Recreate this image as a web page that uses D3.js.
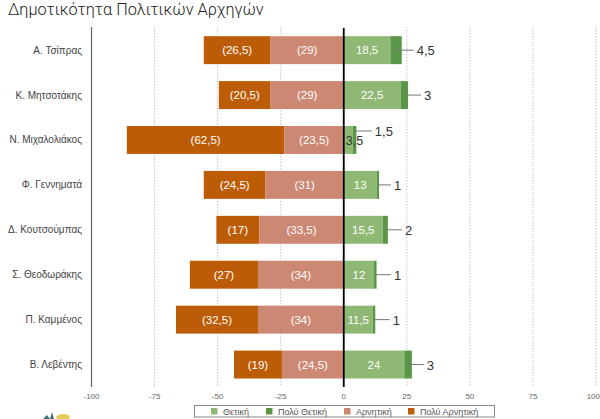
<!DOCTYPE html>
<html lang="el">
<head>
  <meta charset="UTF-8" />
  <title>Δημοτικότητα Πολιτικών Αρχηγών</title>
  <script src="https://d3js.org/d3.v7.min.js"></script>
  <style>
    body, html { margin: 0; padding: 0; background: #fff; }
    svg { display: block; font-family: "Liberation Sans", sans-serif; }
  </style>
</head>
<body>
  <svg id="chart" width="600" height="419"></svg>

  <script>
    // Values
    const leaders = ["Α. Τσίπρας", "Κ. Μητσοτάκης", "Ν. Μιχαλολιάκος", "Φ. Γεννηματά",
      "Δ. Κουτσούμπας", "Σ. Θεοδωράκης", "Π. Καμμένος", "Β. Λεβέντης"];
    const positive = [18.5, 22.5, 3.5, 13, 15.5, 12, 11.5, 24];
    const veryPositive = [4.5, 3, 1.5, 1, 2, 1, 1, 3];
    const negative = [29, 29, 23.5, 31, 33.5, 34, 34, 24.5];
    const veryNegative = [26.5, 20.5, 62.5, 24.5, 17, 27, 32.5, 19];
    const xTicks = [-100, -75, -50, -25, 0, 25, 50, 75, 100];
    const legendLabels = ["Θετική", "Πολύ Θετική", "Αρνητική", "Πολύ Αρνητική"];
    const legendColors = ["#8eb873", "#5a9645", "#cd8873", "#bd5c07"];

    const svg = d3.select("#chart");
    const fmt = v => String(v).replace(".", ",");

    const x = d3.scaleLinear().domain([-100, 100]).range([91.5, 596]);
    const y = d3.scaleBand().domain(leaders).range([27.7, 387]).paddingInner(0.378).paddingOuter(0.189);

    // Dotted vertical grid
    svg.append("g").selectAll("line").data(xTicks.filter(d => d !== 0 && d !== -100)).join("line")
      .attr("x1", d => x(d)).attr("x2", d => x(d))
      .attr("y1", 27).attr("y2", 387)
      .attr("stroke", "#c4c4c4").attr("stroke-width", 1).attr("stroke-dasharray", "1.5 1.5");

    // Bars: negatives stack leftwards from zero, positives rightwards
    const rows = leaders.map((name, i) => ({ name, i }));
    function barRow(color, from, to) {
      svg.append("g").selectAll("rect").data(rows).join("rect")
        .attr("x", d => x(Math.min(from(d.i), to(d.i))))
        .attr("width", d => Math.abs(x(to(d.i)) - x(from(d.i))))
        .attr("y", d => y(d.name)).attr("height", y.bandwidth())
        .attr("fill", color);
    }
    barRow(legendColors[3], i => -negative[i], i => -negative[i] - veryNegative[i]);
    barRow(legendColors[2], i => 0, i => -negative[i]);
    barRow(legendColors[0], i => 0, i => positive[i]);
    barRow(legendColors[1], i => positive[i], i => positive[i] + veryPositive[i]);

    // Axis lines
    svg.append("line").attr("x1", x(-100)).attr("x2", x(-100)).attr("y1", 27).attr("y2", 387)
      .attr("stroke", "#666").attr("stroke-width", 1.2);
    svg.append("line").attr("x1", x(0)).attr("x2", x(0)).attr("y1", 28).attr("y2", 387)
      .attr("stroke", "#000").attr("stroke-width", 1.8);

    // Inner labels
    function innerLabels(values, pos, text) {
      svg.append("g").selectAll("text").data(rows.filter(d => values[d.i] >= 5)).join("text")
        .attr("x", d => x(pos(d.i)))
        .attr("y", d => y(d.name) + y.bandwidth() / 2 + 4)
        .attr("text-anchor", "middle").attr("font-size", 11.5)
        .attr("fill", "#fff")
        .text(d => text(values[d.i]));
    }
    innerLabels(veryNegative, i => -negative[i] - veryNegative[i] / 2, v => `(${fmt(v)})`);
    innerLabels(negative, i => -negative[i] / 2, v => `(${fmt(v)})`);
    innerLabels(positive, i => positive[i] / 2, fmt);

    // The one positive value too small for its bar overflows it in dark text
    svg.append("g").selectAll("text").data(rows.filter(d => positive[d.i] < 5)).join("text")
      .attr("x", x(0) + 2).attr("y", d => y(d.name) + y.bandwidth() / 2 + 5)
      .attr("font-size", 12.5).attr("fill", "#2f3a34")
      .text(d => fmt(positive[d.i]));

    // Leader lines with the "very positive" values, gap from bar end to label set by hand
    const leaderGap = [15, 16, 18.5, 15, 17, 17.5, 17.5, 15];
    const labelGroup = svg.append("g");
    rows.forEach(d => {
      const i = d.i;
      const x0 = x(positive[i] + veryPositive[i] / 2);
      const x1 = x(positive[i] + veryPositive[i]) + leaderGap[i];
      const cy = y(d.name) + y.bandwidth() / 2 + (veryPositive[i] === 1.5 ? -9 : 0);
      labelGroup.append("line").attr("x1", x0).attr("x2", x1 - 3).attr("y1", cy).attr("y2", cy)
        .attr("stroke", "#777").attr("stroke-width", 1);
      labelGroup.append("text").attr("x", x1).attr("y", cy + 5)
        .attr("font-size", 13).attr("fill", "#333").text(fmt(veryPositive[i]));
    });

    // Category labels
    svg.append("g").selectAll("text").data(leaders).join("text")
      .attr("x", 82).attr("y", d => y(d) + y.bandwidth() / 2 + 3.5)
      .attr("text-anchor", "end").attr("font-size", 10).attr("fill", "#444").text(d => d);

    // Tick labels, the last one pulled in so it stays on the page
    svg.append("g").selectAll("text").data(xTicks).join("text")
      .attr("x", d => d === 100 ? 600 : x(d)).attr("y", 398.5)
      .attr("text-anchor", d => d === 100 ? "end" : "middle")
      .attr("font-size", 8).attr("fill", "#666").text(d => d);

    // Title
    svg.append("text").attr("x", 8).attr("y", 14.5).attr("font-family", "Roboto, sans-serif")
      .attr("font-weight", 300).attr("font-size", 16.3).attr("fill", "#222")
      .text("Δημοτικότητα Πολιτικών Αρχηγών");

    // Legend
    const legend = svg.append("g");
    legend.append("rect").attr("x", 194.5).attr("y", 405.5).attr("width", 300).attr("height", 11.5)
      .attr("fill", "#fff").attr("stroke", "#888");
    const legendX = [211, 266, 344, 408];
    legendLabels.forEach((label, i) => {
      legend.append("rect").attr("x", legendX[i]).attr("y", 408).attr("width", 6.5).attr("height", 6.5)
        .attr("fill", legendColors[i]);
      legend.append("text").attr("x", legendX[i] + 12).attr("y", 415)
        .attr("font-size", 9).attr("fill", "#555").text(label);
    });

    // Top of the logo that the picture cuts off at the bottom left
    const logo = svg.append("g");
    logo.append("path").attr("d", "M43 419L47 415L50 419ZM50 419L52 412L54 419Z").attr("fill", "#3f6f6a");
    logo.append("ellipse").attr("cx", 63).attr("cy", 417).attr("rx", 7).attr("ry", 3).attr("fill", "#e6cf55");
  </script>
</body>
</html>
